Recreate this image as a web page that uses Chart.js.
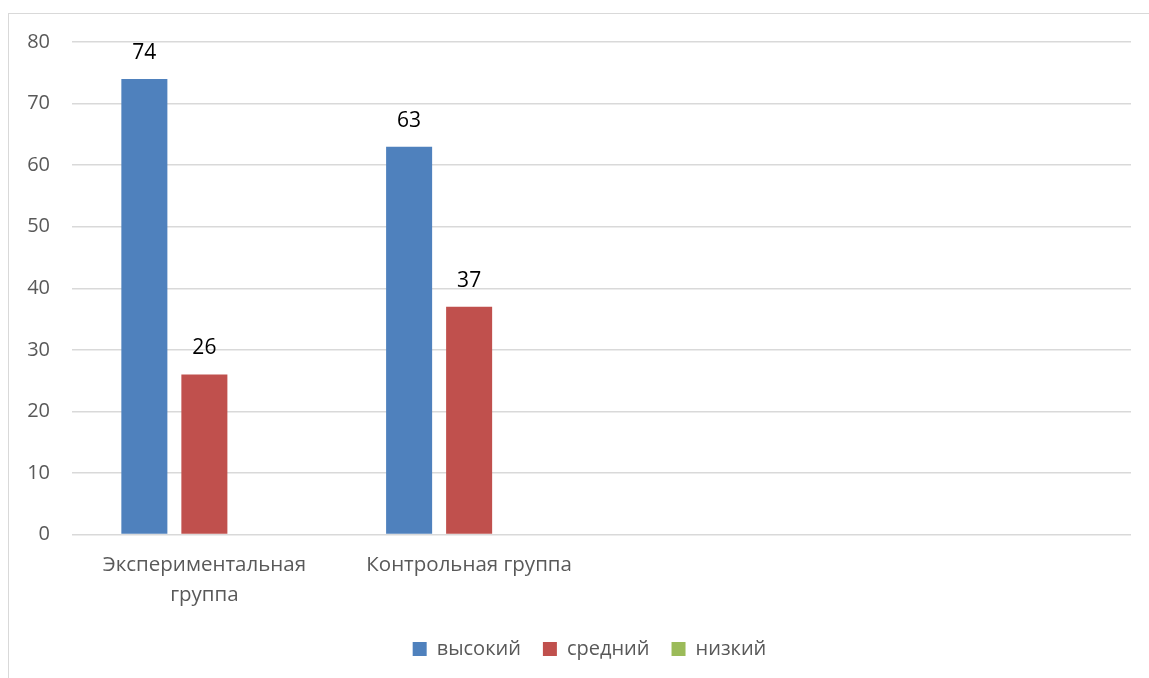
<!DOCTYPE html>
<html lang="ru">
<head>
<meta charset="utf-8">
<title>Уровни по группам</title>
<script src="https://cdn.jsdelivr.net/npm/chart.js@4.4.1/dist/chart.umd.min.js"></script>
<style>
  html, body { margin: 0; padding: 0; background: #fff; overflow: hidden; }
  #wrap { position: relative; width: 1149px; height: 678px; }
  #frame {
    position: absolute; left: 8px; top: 13px; width: 1200px; height: 700px;
    border-left: 1px solid #d9d9d9; border-top: 1px solid #d9d9d9;
  }
  #chart { position: absolute; left: 0; top: 0; }
</style>
</head>
<body>
<div id="wrap">
  <div id="frame"></div>
  <canvas id="chart" width="1149" height="678"></canvas>
</div>
<script>
// категории (две последние пустые, как в исходной диаграмме)
const categories = [['Экспериментальная', 'группа'], 'Контрольная группа', '', ''];
const seriesNames = ['высокий', 'средний', 'низкий'];
const highValues = [74, 63, null, null];
const midValues = [26, 37, null, null];
const lowValues = [null, null, null, null];
const yTicks = [0, 10, 20, 30, 40, 50, 60, 70, 80];

const FONT = '"Open Sans", "Noto Sans", sans-serif';

// подписи значений над столбцами
const valueLabels = {
  id: 'valueLabels',
  afterDatasetsDraw(chart) {
    const ctx = chart.ctx;
    ctx.save();
    ctx.font = '21px ' + FONT;
    ctx.fillStyle = '#000';
    ctx.textAlign = 'center';
    ctx.textBaseline = 'middle';
    chart.data.datasets.forEach((ds, i) => {
      const meta = chart.getDatasetMeta(i);
      meta.data.forEach((bar, j) => {
        const v = ds.data[j];
        if (v === null || v === undefined) return;
        ctx.fillText(String(v), bar.x, bar.y - 26);
      });
    });
    ctx.restore();
  },
};

// легенда в Excel стоит чуть правее, сдвигаем после раскладки
const legendShift = {
  id: 'legendShift',
  afterLayout(chart) {
    const l = chart.legend;
    if (!l) return;
    l.left += 11; l.right += 11;
    l.top -= 9; l.bottom -= 9;
  },
};

new Chart(document.getElementById('chart'), {
  type: 'bar',
  data: {
    labels: categories,
    datasets: [
      { label: seriesNames[0], data: highValues, backgroundColor: '#4f81bd' },
      { label: seriesNames[1], data: midValues, backgroundColor: '#c0504d' },
      { label: seriesNames[2], data: lowValues, backgroundColor: '#9bbb59' },
    ],
  },
  options: {
    responsive: false,
    animation: false,
    devicePixelRatio: 1,
    categoryPercentage: 0.68,
    barPercentage: 0.767,
    layout: { padding: { left: 26, right: 18, top: 42, bottom: 0 } },
    plugins: {
      legend: {
        position: 'bottom',
        labels: {
          font: { family: FONT, size: 20 },
          color: '#595959',
          boxWidth: 14,
          boxHeight: 14,
          padding: 22,
        },
      },
      tooltip: { enabled: false },
    },
    scales: {
      x: {
        grid: { display: false, drawTicks: false },
        border: { display: false },
        ticks: {
          font: { family: FONT, size: 20.5, lineHeight: 1.45 },
          color: '#595959',
          padding: 16,
          maxRotation: 0,
          autoSkip: false,
        },
      },
      y: {
        min: 0,
        max: 80,
        afterFit(scale) { scale.width = 46; },
        afterBuildTicks(scale) { scale.ticks = yTicks.map((v) => ({ value: v })); },
        grid: { color: '#d9d9d9', lineWidth: 1.5, drawTicks: false },
        border: { display: false },
        ticks: {
          font: { family: FONT, size: 20 },
          color: '#595959',
          padding: 22,
        },
      },
    },
  },
  plugins: [valueLabels, legendShift],
});
</script>
</body>
</html>
